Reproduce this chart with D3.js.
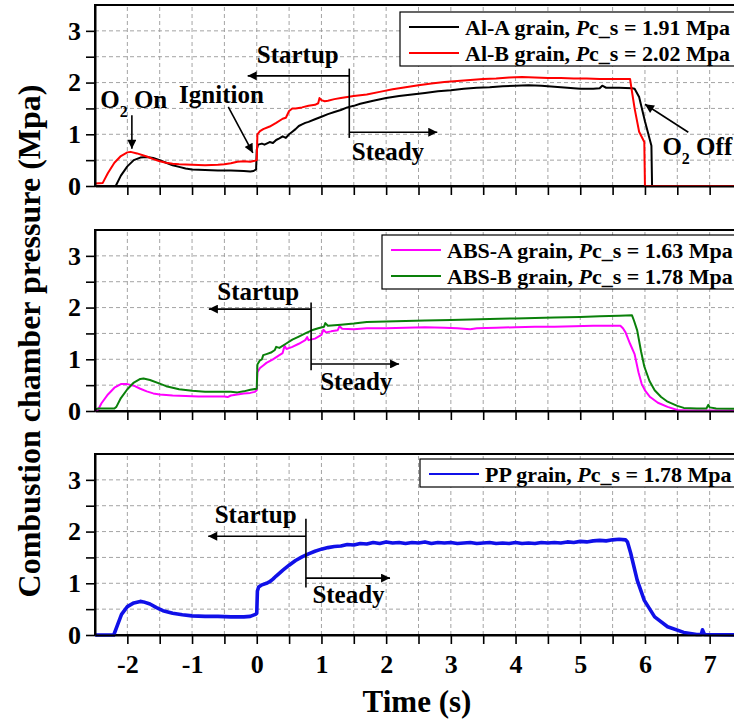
<!DOCTYPE html>
<html>
<head>
<meta charset="utf-8">
<script src="https://cdnjs.cloudflare.com/ajax/libs/d3/7.8.5/d3.min.js"></script>
<style>
body { margin: 0; background: #fff; }
text { font-family: "Times New Roman", "Liberation Serif", serif; font-weight: bold; }
</style>
</head>
<body>
<div id="chart"></div>
<script>
// time (s), pressure (Mpa)
var alA = [[-2.5,0],[-2.18,0],[-2.1,0.2],[-2.0,0.38],[-1.9,0.5],[-1.8,0.55],[-1.7,0.56],[-1.6,0.54],[-1.5,0.5],[-1.4,0.45],[-1.3,0.4],[-1.2,0.37],[-1.1,0.34],[-1.0,0.32],[-0.8,0.31],[-0.6,0.3],[-0.4,0.3],[-0.2,0.29],[-0.1,0.28],[-0.05,0.29],[-0.01,0.32],[0,0.7],[0.02,0.8],[0.08,0.82],[0.12,0.8],[0.2,0.85],[0.25,0.83],[0.3,0.89],[0.35,0.92],[0.4,0.96],[0.45,0.93],[0.5,1.0],[0.55,1.05],[0.6,1.1],[0.65,1.16],[0.7,1.19],[0.75,1.22],[0.8,1.24],[0.9,1.29],[1.0,1.34],[1.1,1.39],[1.2,1.43],[1.3,1.47],[1.4,1.52],[1.5,1.55],[1.6,1.59],[1.7,1.62],[1.8,1.65],[2.0,1.7],[2.2,1.74],[2.4,1.77],[2.6,1.8],[2.8,1.83],[3.0,1.85],[3.2,1.88],[3.4,1.9],[3.6,1.91],[3.8,1.93],[4.0,1.94],[4.2,1.95],[4.4,1.94],[4.6,1.92],[4.8,1.9],[5.0,1.88],[5.2,1.88],[5.3,1.89],[5.34,1.94],[5.4,1.9],[5.6,1.9],[5.8,1.89],[5.84,1.88],[5.91,1.72],[6.0,1.25],[6.1,0.78],[6.11,0],[7.5,0]];
var alB = [[-2.5,0.05],[-2.38,0.06],[-2.3,0.25],[-2.2,0.45],[-2.1,0.58],[-2.0,0.65],[-1.95,0.66],[-1.85,0.63],[-1.7,0.57],[-1.6,0.52],[-1.5,0.48],[-1.4,0.45],[-1.3,0.43],[-1.2,0.42],[-1.0,0.41],[-0.8,0.4],[-0.6,0.41],[-0.5,0.42],[-0.4,0.44],[-0.3,0.47],[-0.2,0.48],[-0.1,0.47],[-0.03,0.49],[0,0.5],[0.01,1.0],[0.05,1.06],[0.1,1.1],[0.2,1.15],[0.3,1.22],[0.4,1.3],[0.45,1.32],[0.5,1.45],[0.55,1.5],[0.6,1.5],[0.7,1.52],[0.8,1.55],[0.9,1.57],[0.95,1.6],[0.97,1.7],[1.0,1.66],[1.05,1.64],[1.1,1.65],[1.2,1.68],[1.3,1.7],[1.4,1.72],[1.5,1.74],[1.7,1.77],[1.9,1.82],[2.1,1.87],[2.3,1.91],[2.5,1.95],[2.7,1.98],[2.9,2.01],[3.1,2.03],[3.3,2.05],[3.5,2.07],[3.7,2.08],[3.9,2.1],[4.1,2.11],[4.3,2.1],[4.5,2.09],[4.7,2.09],[4.9,2.08],[5.1,2.08],[5.3,2.07],[5.5,2.07],[5.77,2.07],[5.79,1.9],[5.84,1.5],[5.91,1.05],[5.99,0.85],[6.0,0],[7.5,0]];
var absA = [[-2.5,0],[-2.45,0.03],[-2.4,0.15],[-2.3,0.32],[-2.2,0.45],[-2.1,0.52],[-2.0,0.52],[-1.9,0.49],[-1.8,0.43],[-1.7,0.38],[-1.6,0.34],[-1.5,0.32],[-1.3,0.3],[-1.1,0.29],[-0.9,0.28],[-0.7,0.28],[-0.5,0.28],[-0.45,0.27],[-0.4,0.3],[-0.3,0.32],[-0.2,0.34],[-0.1,0.35],[-0.03,0.37],[0,0.4],[0.01,0.75],[0.05,0.83],[0.1,0.88],[0.15,0.93],[0.25,1.0],[0.35,1.08],[0.4,1.12],[0.43,1.26],[0.46,1.2],[0.55,1.24],[0.65,1.3],[0.75,1.37],[0.78,1.43],[0.8,1.37],[0.9,1.4],[1.0,1.47],[1.03,1.57],[1.07,1.52],[1.15,1.54],[1.25,1.56],[1.28,1.64],[1.32,1.59],[1.5,1.58],[1.7,1.6],[2.0,1.6],[2.3,1.61],[2.6,1.62],[2.9,1.61],[3.1,1.6],[3.3,1.58],[3.4,1.6],[3.7,1.61],[4.0,1.62],[4.3,1.63],[4.6,1.63],[4.9,1.64],[5.2,1.65],[5.5,1.65],[5.62,1.65],[5.66,1.6],[5.7,1.52],[5.77,1.3],[5.84,1.1],[5.9,0.75],[5.95,0.52],[6.0,0.4],[6.08,0.27],[6.2,0.16],[6.35,0.08],[6.5,0.02],[6.7,0.01],[7.5,0.01]];
var absB = [[-2.5,0.03],[-2.45,0.05],[-2.2,0.05],[-2.17,0.08],[-2.1,0.25],[-2.0,0.42],[-1.9,0.55],[-1.8,0.62],[-1.75,0.63],[-1.65,0.6],[-1.5,0.53],[-1.4,0.48],[-1.3,0.45],[-1.2,0.42],[-1.0,0.39],[-0.8,0.37],[-0.6,0.37],[-0.4,0.37],[-0.3,0.36],[-0.2,0.38],[-0.1,0.41],[0,0.43],[0.01,0.9],[0.05,0.98],[0.08,1.0],[0.1,1.08],[0.15,1.1],[0.22,1.13],[0.28,1.18],[0.3,1.24],[0.35,1.22],[0.45,1.3],[0.55,1.38],[0.65,1.44],[0.75,1.5],[0.85,1.56],[0.95,1.6],[1.04,1.63],[1.06,1.7],[1.1,1.65],[1.3,1.67],[1.5,1.69],[1.7,1.72],[2.0,1.73],[2.3,1.74],[2.6,1.75],[3.0,1.76],[3.3,1.77],[3.6,1.78],[4.0,1.79],[4.3,1.8],[4.6,1.81],[5.0,1.82],[5.3,1.83],[5.6,1.84],[5.8,1.85],[5.83,1.75],[5.88,1.56],[5.94,1.15],[5.99,0.86],[6.07,0.58],[6.15,0.4],[6.25,0.27],[6.35,0.18],[6.5,0.1],[6.6,0.06],[6.8,0.05],[6.95,0.05],[6.98,0.12],[7.0,0.07],[7.1,0.05],[7.5,0.04]];
var pp = [[-2.5,0],[-2.21,0],[-2.15,0.2],[-2.09,0.4],[-2.0,0.55],[-1.9,0.62],[-1.8,0.65],[-1.75,0.64],[-1.65,0.6],[-1.55,0.53],[-1.45,0.47],[-1.3,0.42],[-1.15,0.39],[-1.0,0.37],[-0.8,0.36],[-0.6,0.36],[-0.4,0.35],[-0.2,0.35],[-0.1,0.36],[-0.02,0.4],[0,0.42],[0.01,0.85],[0.03,0.93],[0.08,0.97],[0.15,1.0],[0.2,1.03],[0.25,1.08],[0.3,1.14],[0.4,1.25],[0.5,1.35],[0.6,1.44],[0.7,1.51],[0.8,1.57],[0.9,1.62],[1.0,1.66],[1.1,1.69],[1.2,1.71],[1.3,1.72],[1.4,1.75],[1.5,1.74],[1.6,1.77],[1.7,1.76],[1.8,1.79],[1.9,1.77],[2.0,1.8],[2.1,1.78],[2.2,1.79],[2.3,1.77],[2.4,1.79],[2.5,1.78],[2.6,1.8],[2.7,1.77],[2.8,1.79],[2.9,1.78],[3.0,1.79],[3.1,1.77],[3.2,1.78],[3.3,1.79],[3.4,1.77],[3.5,1.78],[3.6,1.79],[3.7,1.77],[3.8,1.78],[3.9,1.77],[4.0,1.79],[4.1,1.77],[4.2,1.78],[4.3,1.77],[4.4,1.79],[4.5,1.78],[4.6,1.79],[4.7,1.78],[4.8,1.8],[4.9,1.79],[5.0,1.81],[5.1,1.8],[5.2,1.82],[5.3,1.83],[5.4,1.82],[5.5,1.84],[5.6,1.85],[5.7,1.84],[5.73,1.8],[5.78,1.58],[5.88,1.06],[5.99,0.67],[6.15,0.35],[6.35,0.16],[6.6,0.05],[6.8,0.01],[6.87,0.01],[6.89,0.1],[6.92,0.01],[7.5,0]];

var grainNames = [["Al-A grain", "Al-B grain"], ["ABS-A grain", "ABS-B grain"], ["PP grain"]];
var pcsValues = [["1.91", "2.02"], ["1.63", "1.78"], ["1.78"]];
var lineColors = [["#000000", "#ff0000"], ["#ff00ff", "#0a800a"], ["#1010e8"]];
var xTicks = d3.range(-2.5, 7.51, 0.5);
var yTicks = d3.range(0, 3.01, 0.5);

var svgWidth = 734;
var svgHeight = 721;
var panelTops = [5, 230, 454];
var panelHeight = 181;

var svg = d3.select("#chart")
    .append("svg")
    .attr("width", svgWidth)
    .attr("height", svgHeight);

svg.append("defs").append("marker")
    .attr("id", "head")
    .attr("viewBox", "0 0 10 10")
    .attr("refX", 10)
    .attr("refY", 5)
    .attr("markerWidth", 13)
    .attr("markerHeight", 9)
    .attr("markerUnits", "userSpaceOnUse")
    .attr("orient", "auto")
    .append("path")
    .attr("d", "M0,0L10,5L0,10Z")
    .attr("fill", "#000");

var x = d3.scaleLinear().domain([-2.5, 7.5]).range([95, 742]);

var seriesByPanel = [[alA, alB], [absA, absB], [pp]];
var yScales = [];

panelTops.forEach(function(top, i) {
    var y = d3.scaleLinear().domain([0, 3.5]).range([top + panelHeight, top]);
    yScales.push(y);
    var g = svg.append("g");

    // dashed grid
    g.selectAll(".vgrid")
        .data(xTicks.filter(d => d > -2.5))
        .enter().append("line")
        .attr("x1", d => x(d)).attr("x2", d => x(d))
        .attr("y1", y(0)).attr("y2", y(3.5))
        .attr("stroke", "#9a9a9a").attr("stroke-width", 0.9)
        .attr("stroke-dasharray", "4,3");
    g.selectAll(".hgrid")
        .data(yTicks.filter(d => d > 0))
        .enter().append("line")
        .attr("x1", x(-2.5)).attr("x2", x(7.5))
        .attr("y1", d => y(d)).attr("y2", d => y(d))
        .attr("stroke", "#9a9a9a").attr("stroke-width", 0.9)
        .attr("stroke-dasharray", "4,3");

    // frame
    g.append("rect")
        .attr("x", x(-2.5)).attr("y", y(3.5))
        .attr("width", x(7.5) - x(-2.5)).attr("height", panelHeight)
        .attr("fill", "none").attr("stroke", "#000").attr("stroke-width", 2);

    // curves
    var line = d3.line().x(d => x(d[0])).y(d => y(d[1]));
    seriesByPanel[i].forEach(function(s, j) {
        g.append("path")
            .datum(s)
            .attr("d", line)
            .attr("fill", "none")
            .attr("stroke", lineColors[i][j])
            .attr("stroke-width", i === 2 ? 3.6 : 2)
            .attr("stroke-linejoin", "round");
    });

    // axes
    var xAxis = g.append("g")
        .attr("transform", `translate(0, ${y(0)})`)
        .call(d3.axisBottom(x).tickValues(xTicks.filter(d => d > -2.5 && d < 7.5))
            .tickSize(9).tickSizeOuter(0).tickPadding(11)
            .tickFormat(d => (i === 2 && Number.isInteger(d)) ? String(d) : ""));
    var yAxis = g.append("g")
        .attr("transform", `translate(${x(-2.5)}, 0)`)
        .call(d3.axisLeft(y).tickValues(yTicks)
            .tickSize(9).tickSizeOuter(0).tickPadding(5)
            .tickFormat(d => Number.isInteger(d) ? d : ""));
    [xAxis, yAxis].forEach(function(a) {
        a.select(".domain").attr("stroke-width", 2);
        a.selectAll(".tick line").attr("stroke-width", 1.6);
        a.selectAll("text")
            .style("font-family", '"Times New Roman", "Liberation Serif", serif')
            .style("font-weight", "bold")
            .style("font-size", "26px")
            .attr("fill", "#000");
    });

    // legend
    var names = grainNames[i];
    var lx = [400, 382, 420][i];
    var ly = [12, 235, 459][i];
    var lw = [340, 360, 322][i];
    var rowH = 26;
    var lg = g.append("g");
    lg.append("rect")
        .attr("x", lx).attr("y", ly)
        .attr("width", lw).attr("height", names.length * rowH + 2)
        .attr("fill", "#fff").attr("stroke", "#000").attr("stroke-width", 1.2);
    names.forEach(function(n, j) {
        var cy = ly + 15 + j * rowH;
        lg.append("line")
            .attr("x1", lx + 9).attr("x2", lx + 59)
            .attr("y1", cy).attr("y2", cy)
            .attr("stroke", lineColors[i][j]).attr("stroke-width", 2);
        var t = lg.append("text")
            .attr("x", lx + 65).attr("y", cy + 7.5)
            .style("font-size", "22px");
        t.append("tspan").text(n + ", ");
        t.append("tspan").style("font-style", "italic").text("P");
        t.append("tspan").text("c_s = " + pcsValues[i][j] + " Mpa");
    });
});

// annotations
function arrow(y, t1, p1, t2, p2) {
    svg.append("line")
        .attr("x1", x(t1)).attr("y1", y(p1))
        .attr("x2", x(t2)).attr("y2", y(p2))
        .attr("stroke", "#000").attr("stroke-width", 1.6)
        .attr("marker-end", "url(#head)");
}
function label(y, t, p, txt) {
    return svg.append("text")
        .attr("x", x(t)).attr("y", y(p))
        .style("font-size", "25px")
        .text(txt);
}
function subLabel(y, t, p, after) {
    var tx = svg.append("text")
        .attr("x", x(t)).attr("y", y(p))
        .style("font-size", "25px");
    tx.append("tspan").text("O");
    tx.append("tspan").attr("dy", 9).style("font-size", "16px").text("2");
    tx.append("tspan").attr("dy", -9).text(after);
}

var y1 = yScales[0], y2 = yScales[1], y3 = yScales[2];

subLabel(y1, -2.42, 1.51, " On");
arrow(y1, -1.93, 1.37, -1.93, 0.72);
label(y1, -1.2, 1.6, "Ignition");
arrow(y1, -0.44, 1.53, -0.06, 0.64);
subLabel(y1, 6.27, 0.6, " Off");
arrow(y1, 6.67, 1.04, 6.0, 1.58);

// startup / steady markers: [panel y, split time, top p, bottom p, startup arrow p, steady arrow p, startup end, steady end, startup label t, label p, steady label t, label p]
var marks = [
    [y1, 1.43, 2.27, 0.93, 2.13, 1.04, -0.14, 2.79, 0.0, 2.38, 1.47, 0.5],
    [y2, 0.84, 2.1, 0.79, 1.97, 0.91, -0.74, 2.2, -0.61, 2.14, 0.98, 0.41],
    [y3, 0.76, 2.25, 0.92, 1.91, 1.1, -0.75, 2.06, -0.65, 2.16, 0.86, 0.62]
];
marks.forEach(function(m) {
    var y = m[0];
    svg.append("line")
        .attr("x1", x(m[1])).attr("x2", x(m[1]))
        .attr("y1", y(m[2])).attr("y2", y(m[3]))
        .attr("stroke", "#000").attr("stroke-width", 1.6);
    arrow(y, m[1], m[4], m[6], m[4]);
    arrow(y, m[1], m[5], m[7], m[5]);
    label(y, m[8], m[9], "Startup");
    label(y, m[10], m[11], "Steady");
});

// axis titles
svg.append("text")
    .attr("transform", "translate(40, 341) rotate(-90)")
    .attr("text-anchor", "middle")
    .style("font-size", "32px")
    .text("Combustion chamber pressure (Mpa)");
svg.append("text")
    .attr("x", 417).attr("y", 712)
    .attr("text-anchor", "middle")
    .style("font-size", "31px")
    .text("Time (s)");
</script>
</body>
</html>
